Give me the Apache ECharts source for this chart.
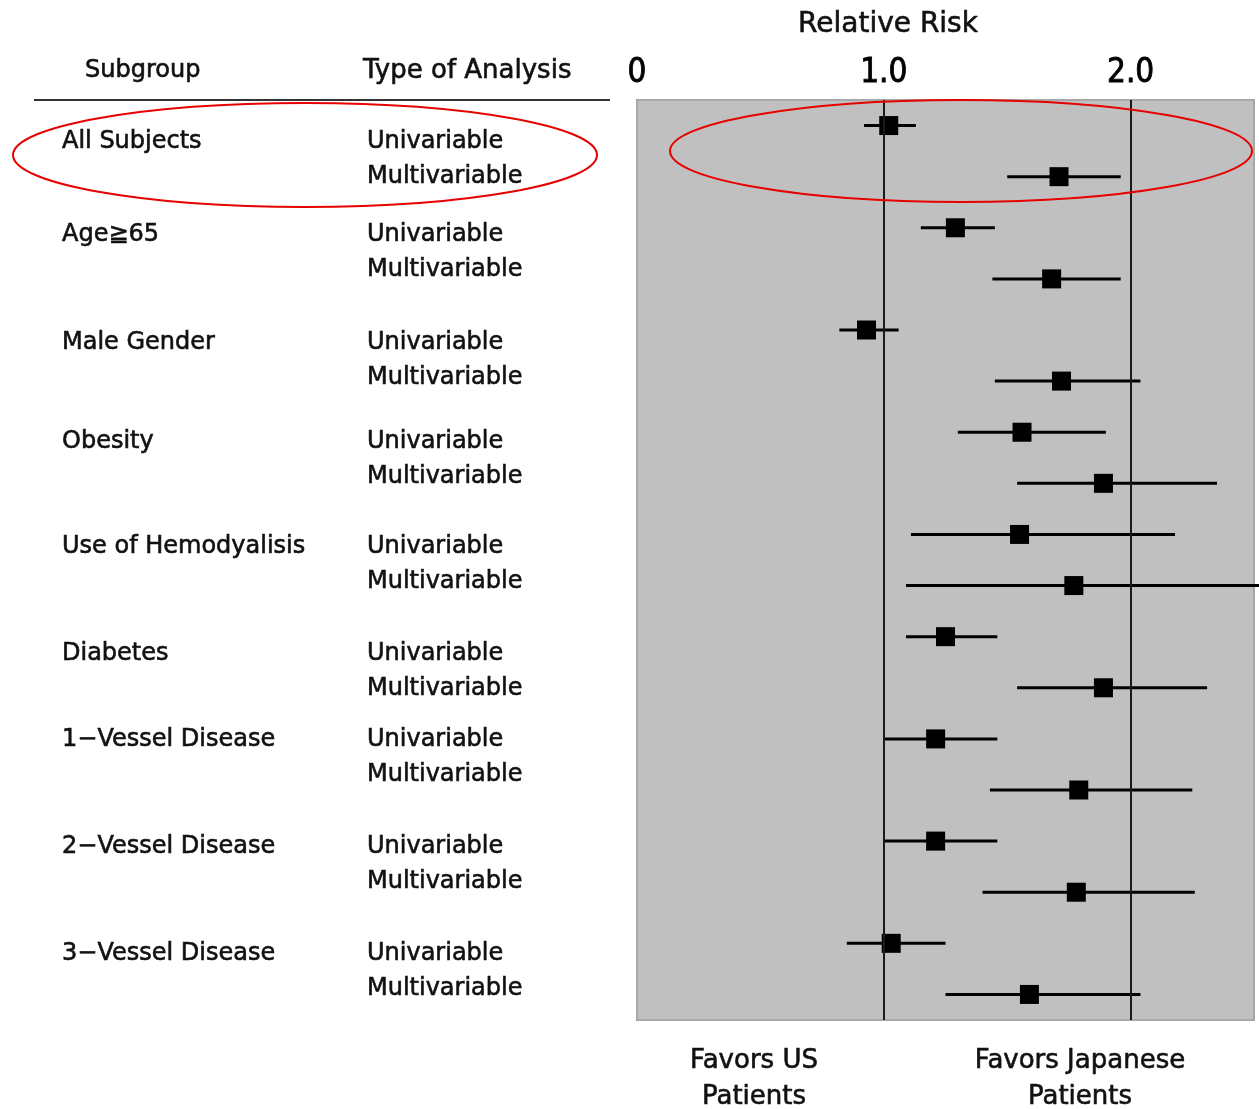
<!DOCTYPE html>
<html>
<head>
<meta charset="utf-8">
<script src="https://cdn.jsdelivr.net/npm/echarts@6/dist/echarts.min.js"></script>
<style>
  html, body { margin: 0; padding: 0; background: #fff; }
  #chart { width: 1259px; height: 1109px; }
</style>
</head>
<body>
<div id="chart"></div>
<script>
// ---- data ----
const subgroups = ['All Subjects', 'Age\u226765', 'Male Gender', 'Obesity', 'Use of Hemodyalisis',
  'Diabetes', '1\u2212Vessel Disease', '2\u2212Vessel Disease', '3\u2212Vessel Disease'];
const analysisTypes = ['Univariable', 'Multivariable'];
const relativeRisk = [1.02, 1.71, 1.29, 1.68, 0.93, 1.72, 1.56, 1.89, 1.55, 1.77, 1.25, 1.89, 1.21, 1.79, 1.21, 1.78, 1.03, 1.59];
const lowerCI      = [0.92, 1.50, 1.15, 1.44, 0.82, 1.45, 1.30, 1.54, 1.11, 1.09, 1.09, 1.54, 1.00, 1.43, 1.00, 1.40, 0.85, 1.25];
const upperCI      = [1.13, 1.96, 1.45, 1.96, 1.06, 2.04, 1.90, 2.35, 2.18, 2.60, 1.46, 2.31, 1.46, 2.25, 1.46, 2.26, 1.25, 2.04];
const tickLabels = ['0', '1.0', '2.0'];
const refLines = [1, 2];
const axisTitle = 'Relative Risk';
const favorsLeft = 'Favors US\nPatients';
const favorsRight = 'Favors Japanese\nPatients';

// ---- layout ----
const FONT = '"DejaVu Sans", "Noto Sans CJK JP", sans-serif';
const TICKFONT = '"Liberation Sans Narrow", "DejaVu Sans Condensed", "DejaVu Sans", sans-serif';
const TXT = '#111';
const groupTextTop = [142, 235, 343, 442, 547, 654, 740, 847, 954]; // centre y of first line of each group
const lineGap = 35;
const thick = { stroke: TXT, lineWidth: 0.6 };

const rows = [];
subgroups.forEach(g => analysisTypes.forEach(t => rows.push(g + ' / ' + t)));

const ciData = rows.map((r, i) => [i, lowerCI[i], upperCI[i]]);
const ptData = rows.map((r, i) => [relativeRisk[i], r]);

function txt(x, y, text, size, extra) {
  return { type: 'text', x: x, y: y, style: Object.assign({ text: text, font: size + 'px ' + FONT, fill: TXT, textVerticalAlign: 'middle' }, thick, extra || {}) };
}

const graphics = [];
// table header
graphics.push(txt(85, 71, 'Subgroup', 24));
graphics.push(txt(363, 71, 'Type of Analysis', 26));
graphics.push({ type: 'line', shape: { x1: 34, y1: 100, x2: 610, y2: 100 }, style: { stroke: '#333', lineWidth: 2 } });
subgroups.forEach((g, k) => {
  const y = groupTextTop[k];
  graphics.push(txt(62, y, g, 24));
  analysisTypes.forEach((t, j) => {
    graphics.push(txt(367, y + j * lineGap, t, 24));
  });
});
// bottom captions
graphics.push(txt(754, 1079, favorsLeft, 26, { textAlign: 'center', lineHeight: 36 }));
graphics.push(txt(1080, 1079, favorsRight, 26, { textAlign: 'center', lineHeight: 36 }));
// red annotation ellipses
graphics.push({ type: 'ellipse', z: 100, shape: { cx: 305, cy: 155, rx: 292, ry: 52 }, style: { fill: 'none', stroke: '#e60000', lineWidth: 2 } });
graphics.push({ type: 'ellipse', z: 100, shape: { cx: 961, cy: 151, rx: 291, ry: 51 }, style: { fill: 'none', stroke: '#e60000', lineWidth: 2 } });

const chart = echarts.init(document.getElementById('chart'));
chart.setOption({
  animation: false,
  backgroundColor: '#fff',
  title: {
    text: axisTitle, left: 883, top: 6, textAlign: 'center',
    textStyle: { fontFamily: FONT, fontSize: 28, fontWeight: 'normal', color: TXT, textBorderColor: TXT, textBorderWidth: 0.6 }
  },
  grid: {
    left: 637, right: 5, top: 100, bottom: 89,
    show: true, backgroundColor: '#c0c0c0', borderColor: '#a8a8a8', borderWidth: 2
  },
  xAxis: {
    type: 'value', position: 'top', min: 0, max: 2.5, interval: 1,
    axisLine: { show: false }, axisTick: { show: false }, splitLine: { show: false },
    axisLabel: {
      show: true, margin: 10, fontFamily: TICKFONT, fontSize: 33, color: '#000', showMaxLabel: false,
      textBorderColor: '#000', textBorderWidth: 0.8,
      formatter: v => { const i = Math.round(v); return (Math.abs(v - i) < 1e-6 && tickLabels[i] != null) ? tickLabels[i] : ''; }
    }
  },
  yAxis: {
    type: 'category', data: rows, inverse: true, show: false
  },
  graphic: graphics,
  series: [
    {
      type: 'custom',
      data: ciData,
      dimensions: ['row', 'lower', 'upper'],
      encode: { x: [1, 2], y: 0 },
      renderItem: (params, api) => {
        const row = api.value(0);
        const p1 = api.coord([api.value(1), row]);
        const p2 = api.coord([api.value(2), row]);
        return { type: 'line', shape: { x1: p1[0], y1: p1[1], x2: p2[0], y2: p2[1] }, style: { stroke: '#000', lineWidth: 3 } };
      },
      z: 3
    },
    {
      type: 'scatter',
      data: ptData,
      symbol: 'rect', symbolSize: 19,
      itemStyle: { color: '#000', opacity: 1 },
      markLine: {
        silent: true, symbol: 'none', label: { show: false },
        lineStyle: { color: '#1a1a1a', width: 2, type: 'solid' },
        data: refLines.map(v => ({ xAxis: v }))
      },
      z: 4
    }
  ]
});
</script>
</body>
</html>
